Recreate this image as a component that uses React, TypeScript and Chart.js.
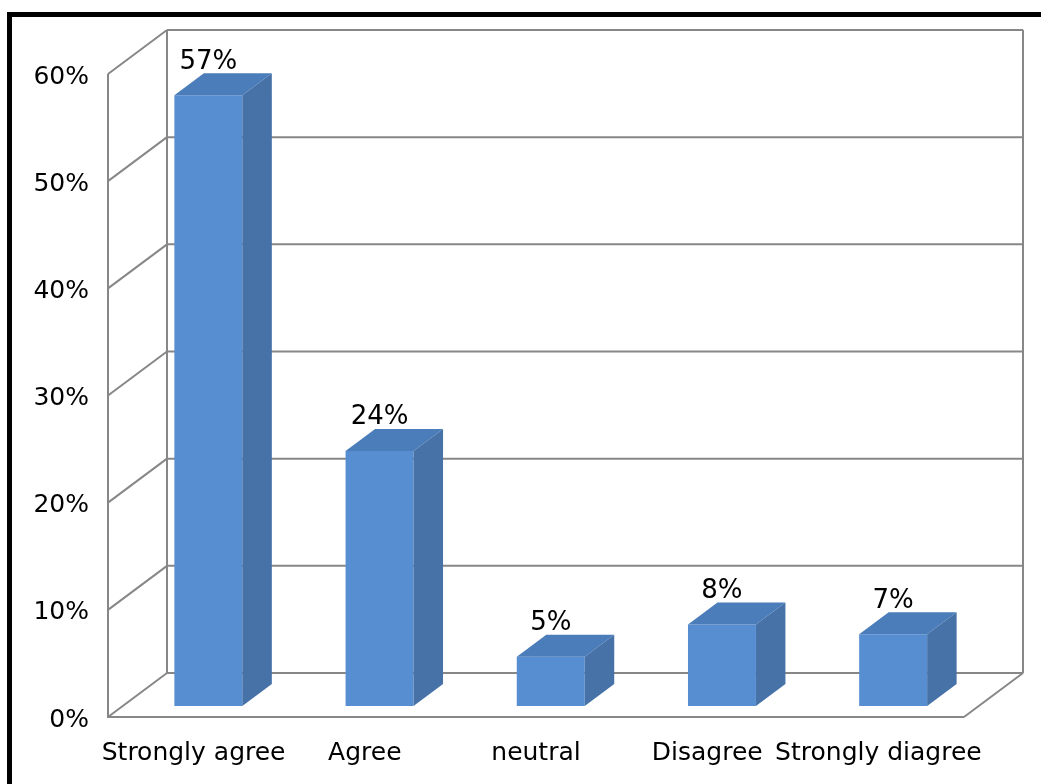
import React, { useEffect, useRef } from "react";
import { Chart, registerables } from "chart.js";

Chart.register(...registerables);

const categories = ["Strongly agree", "Agree", "neutral", "Disagree", "Strongly diagree"];
const percentValues = [57.0, 23.8, 4.6, 7.6, 6.7];
const yTickValues = [0, 10, 20, 30, 40, 50, 60];

const FONT = "'DejaVu Sans', Verdana, sans-serif";
const WALL_DX = 59;
const WALL_DY = -44;
const BAR_OFFSET = 0.25;
const BAR_DEPTH = 0.5;
const FRONT_COLOR = "#568ed1";
const TOP_COLOR = "#4a7dba";
const SIDE_COLOR = "#4672a8";
const LINE_COLOR = "#878787";

const threeD = {
  id: "threeD",
  beforeDatasetsDraw(chart: any) {
    const ctx = chart.ctx;
    const x = chart.scales.x;
    const y = chart.scales.y;
    const left = x.left;
    const right = x.right;
    const top = y.getPixelForValue(yTickValues[yTickValues.length - 1]);
    const bottom = y.getPixelForValue(0);
    ctx.save();
    ctx.strokeStyle = LINE_COLOR;
    ctx.lineWidth = 2;
    ctx.lineCap = "butt";
    const line = (x1: number, y1: number, x2: number, y2: number) => {
      ctx.beginPath();
      ctx.moveTo(x1, y1);
      ctx.lineTo(x2, y2);
      ctx.stroke();
    };
    line(left, top, left, bottom);
    for (const v of yTickValues) {
      const py = y.getPixelForValue(v);
      line(left, py, left + WALL_DX, py + WALL_DY);
      line(left + WALL_DX, py + WALL_DY, right + WALL_DX, py + WALL_DY);
    }
    line(left + WALL_DX, top + WALL_DY, left + WALL_DX, bottom + WALL_DY);
    line(right + WALL_DX, top + WALL_DY, right + WALL_DX, bottom + WALL_DY);
    line(left - 1, bottom, right, bottom);
    line(right, bottom, right + WALL_DX, bottom + WALL_DY);
    ctx.restore();

    ctx.save();
    ctx.translate(WALL_DX * BAR_OFFSET, WALL_DY * BAR_OFFSET);
  },
  afterDatasetsDraw(chart: any) {
    const ctx = chart.ctx;
    const bdx = WALL_DX * BAR_DEPTH;
    const bdy = WALL_DY * BAR_DEPTH;
    const meta = chart.getDatasetMeta(0);
    meta.data.forEach((el: any) => {
      const { x, y, base, width } = el.getProps(["x", "y", "base", "width"], true);
      const l = x - width / 2;
      const r = x + width / 2;
      ctx.fillStyle = TOP_COLOR;
      ctx.beginPath();
      ctx.moveTo(l, y);
      ctx.lineTo(r, y);
      ctx.lineTo(r + bdx, y + bdy);
      ctx.lineTo(l + bdx, y + bdy);
      ctx.closePath();
      ctx.fill();
      ctx.fillStyle = SIDE_COLOR;
      ctx.beginPath();
      ctx.moveTo(r, y);
      ctx.lineTo(r + bdx, y + bdy);
      ctx.lineTo(r + bdx, base + bdy);
      ctx.lineTo(r, base);
      ctx.closePath();
      ctx.fill();
    });
    ctx.restore();

    ctx.save();
    ctx.font = `26px ${FONT}`;
    ctx.fillStyle = "#000";
    ctx.textAlign = "center";
    ctx.textBaseline = "alphabetic";
    meta.data.forEach((el: any, i: number) => {
      const { x, y } = el.getProps(["x", "y"], true);
      const lx = x + WALL_DX * BAR_OFFSET;
      const ly = y + WALL_DY * BAR_OFFSET + bdy - 4.5;
      ctx.fillText(`${Math.round(percentValues[i])}%`, lx, ly);
    });
    ctx.restore();
  },
};

export default function App() {
  const ref = useRef<HTMLCanvasElement | null>(null);
  useEffect(() => {
    if (!ref.current) return;
    const chart = new Chart(ref.current, {
      type: "bar",
      data: {
        labels: categories,
        datasets: [
          {
            data: percentValues,
            backgroundColor: FRONT_COLOR,
            borderWidth: 0,
            categoryPercentage: 1,
            barPercentage: 0.397,
          },
        ],
      },
      options: {
        responsive: false,
        animation: false,
        devicePixelRatio: 1,
        layout: { padding: { left: 0, top: 74, right: 77, bottom: 0 } },
        plugins: {
          legend: { display: false },
          tooltip: { enabled: false },
          title: { display: false },
        },
        scales: {
          x: {
            type: "category",
            grid: { display: false, drawTicks: false },
            border: { display: false },
            ticks: {
              font: { family: FONT, size: 25 },
              color: "#000",
              padding: 21,
              maxRotation: 0,
              autoSkip: false,
            },
            afterFit: (s: any) => {
              s.height = 67;
            },
          },
          y: {
            type: "linear",
            min: 0,
            max: 60,
            grid: { display: false, drawTicks: false },
            border: { display: false },
            ticks: {
              stepSize: 10,
              font: { family: FONT, size: 25 },
              color: "#000",
              padding: 19,
              labelOffset: 3,
              callback: (v: any) => `${v}%`,
            },
            afterFit: (s: any) => {
              s.width = 108;
            },
          },
        },
      },
      plugins: [threeD],
    });
    return () => chart.destroy();
  }, []);

  return (
    <div
      style={{
        position: "fixed",
        left: 0,
        top: 0,
        width: 1041,
        height: 784,
        overflow: "hidden",
        background: "#fff",
      }}
    >
      <div
        style={{
          position: "absolute",
          left: 7,
          top: 12,
          width: 1200,
          height: 900,
          borderTop: "5px solid #000",
          borderLeft: "5px solid #000",
          boxSizing: "border-box",
        }}
      />
      <canvas
        ref={ref}
        width={1041}
        height={784}
        style={{ position: "absolute", left: 0, top: 0, width: 1041, height: 784 }}
      />
    </div>
  );
}
